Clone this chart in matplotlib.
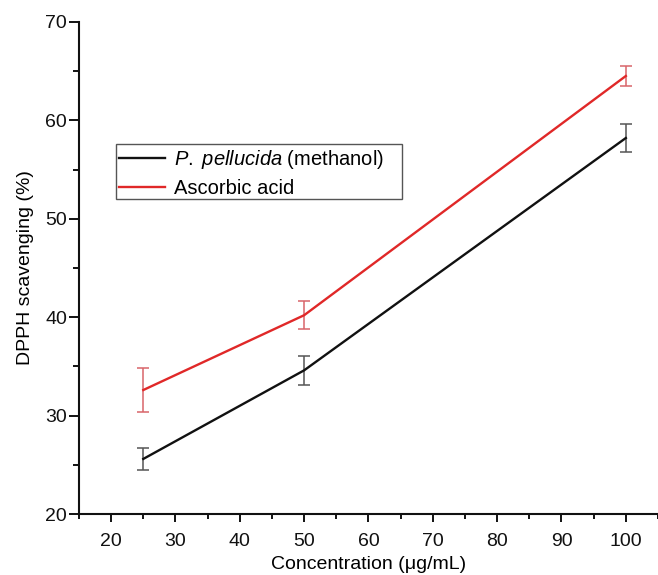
import matplotlib
matplotlib.use("Agg")
import matplotlib.pyplot as plt
from matplotlib.patches import Rectangle
from matplotlib.ticker import MultipleLocator

plt.rcParams['font.family'] = ['Liberation Sans', 'DejaVu Sans']
plt.rcParams['mathtext.fontset'] = 'custom'
plt.rcParams['mathtext.rm'] = 'Liberation Sans'
plt.rcParams['mathtext.it'] = 'Liberation Sans:italic'

# Concentrations tested
concentration = [25, 50, 100]

# DPPH radical scavenging (%) with standard deviations
pp_methanol = [25.6, 34.6, 58.2]
pp_methanol_err = [1.1, 1.45, 1.45]
ascorbic = [32.6, 40.2, 64.5]
ascorbic_err = [2.2, 1.45, 1.0]

fig = plt.figure(figsize=(6.58, 5.75), dpi=100)
ax = fig.add_axes([0.120, 0.106, 0.880, 0.856])

ax.errorbar(concentration, pp_methanol, yerr=pp_methanol_err, color='#111111',
            ecolor='#555555', elinewidth=1.1, capsize=4, capthick=1.1, lw=1.7,
            label=r'$\it{P.\ pellucida}$ (methanol)')
ax.errorbar(concentration, ascorbic, yerr=ascorbic_err, color='#e02828',
            ecolor='#d9646a', elinewidth=1.1, capsize=4, capthick=1.1, lw=1.7,
            label='Ascorbic acid')

ax.set_xlim(15, 105)
ax.set_ylim(20, 70)
ax.xaxis.set_major_locator(MultipleLocator(10))
ax.xaxis.set_minor_locator(MultipleLocator(5))
ax.yaxis.set_major_locator(MultipleLocator(10))
ax.yaxis.set_minor_locator(MultipleLocator(5))
ax.set_xticks(range(20, 101, 10))

for side in ('top', 'right'):
    ax.spines[side].set_visible(False)
for side in ('left', 'bottom'):
    ax.spines[side].set_linewidth(1.5)
    ax.spines[side].set_color('#111111')

ax.tick_params(which='both', direction='out', width=1.4, colors='#111111',
               labelsize=14)
ax.tick_params(axis='x', which='major', length=6, pad=8)
ax.tick_params(axis='x', which='minor', length=3.5)
ax.tick_params(axis='y', which='major', length=7.5, pad=1)
ax.tick_params(axis='y', which='minor', length=4.5)

ax.set_xlabel('Concentration (μg/mL)', fontsize=14, labelpad=4)
ax.set_ylabel('DPPH scavenging (%)', fontsize=14, labelpad=8)

# Legend entries without their own frame; a wider box is drawn around them
handles, labels = ax.get_legend_handles_labels()
handles = [h[0] for h in handles]
leg = ax.legend(handles, labels, loc='upper left', bbox_to_anchor=(0.069, 0.744),
                borderaxespad=0, fontsize=14.5, frameon=False,
                handlelength=2.3, handletextpad=0.45, labelspacing=0.4,
                borderpad=0)
ax.add_patch(Rectangle((0.0639, 0.640), 0.494, 0.112, transform=ax.transAxes,
                       fill=False, edgecolor='#555555', linewidth=1.0,
                       zorder=5, clip_on=False))

fig.savefig('out.png', dpi=100)
